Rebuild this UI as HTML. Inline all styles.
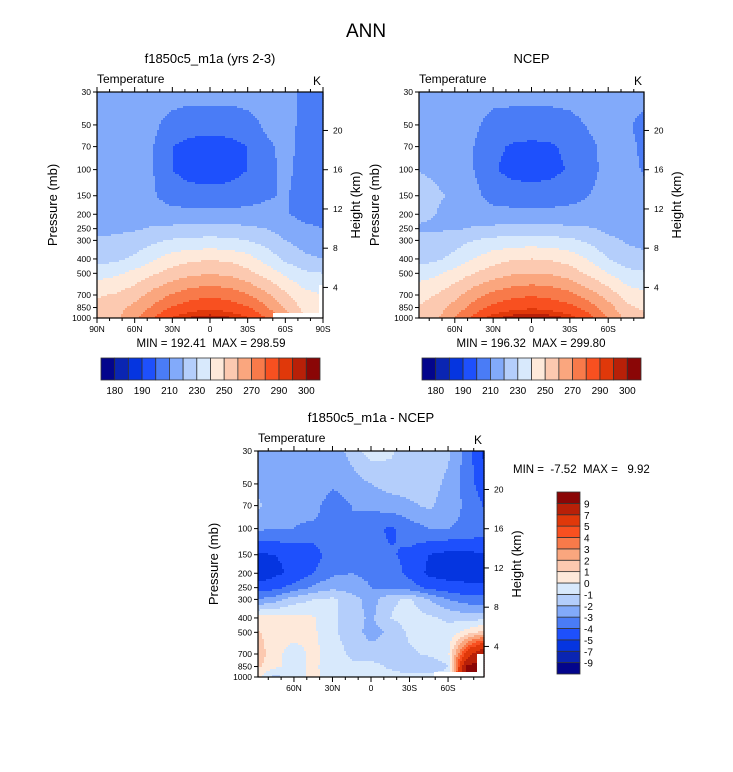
<!DOCTYPE html>
<html><head><meta charset="utf-8"><style>
body{margin:0;background:#fff;}
svg{display:block;font-family:"Liberation Sans",sans-serif;}
</style></head><body>
<svg id="fig" width="733" height="772" viewBox="0 0 733 772" xmlns="http://www.w3.org/2000/svg">
<rect width="733" height="772" fill="#fff"/>
<text x="366" y="37" font-size="19" text-anchor="middle">ANN</text>
</svg>
<script>
// ---- data ----
const lats = [90,75,60,45,30,15,0,-15,-30,-45,-60,-75,-90];
const levels = [30,50,70,100,150,200,250,300,400,500,700,850,1000];
const modelT = [
 [215,215,215,215,215,214,214,214,215,215,214,207,206],
 [216,216,215,212,206,204,204,204,206,212,214,207,206],
 [217,216,214,210,200,197,196,197,200,208,213,207,206],
 [218,217,215,210,200,196,195,196,200,207,212,207,205],
 [217,216,214,211,205,204,204,204,206,209,211,206,205],
 [217,217,216,215,214,213,213,213,213,213,211,207,206],
 [218,218,219,221,222,223,224,223,222,220,216,212,210],
 [221,222,224,228,231,232,233,232,230,226,220,216,214],
 [226,228,232,239,245,248,249,248,244,236,228,222,220],
 [236,238,243,249,254,258,259,258,253,246,238,232,230],
 [249,251,256,264,271,276,278,276,271,262,252,243,240],
 [253,256,263,272,281,286,288,286,281,271,258,247,244],
 [256,258,268,280,291,296,298,296,291,280,266,250,246]
];
const obsT = [
 [215,215,217,215,214,214,214,214,215,217,214,214,213],
 [216,216,215,212,206,205,205,205,206,211,214,211,207],
 [217,216,215,210,202,199,198,199,202,208,213,212,208],
 [220,219,216,210,201,197,196,197,201,207,213,212,209],
 [222,221,219,213,206,205,204,205,207,210,213,213,212],
 [222,220,217,215,214,213,213,213,213,213,213,212,212],
 [219,219,219,221,222,223,224,223,222,221,218,216,214],
 [222,223,226,230,233,234,235,234,232,228,222,219,217],
 [226,228,233,240,246,249,250,249,246,239,230,224,222],
 [235,238,244,250,255,259,260,259,255,248,240,233,231],
 [247,250,257,266,273,277,279,277,273,265,256,245,242],
 [250,254,264,274,283,287,289,287,283,275,264,252,248],
 [255,258,271,283,294,298,300,298,294,284,270,256,252]
];
const diffT = [
 [-2.6,-2.6,-2.5,-2.3,-2.6,-1.6,-0.5,-0.8,-1.6,-1.6,-1.8,-3.5,-5.5],
 [-2.2,-2.5,-2.5,-2.3,-2.8,-2.5,-2.0,-1.6,-1.5,-1.6,-2.2,-3.5,-4.8],
 [-1.8,-2.3,-2.8,-2.6,-3.6,-3.0,-2.8,-2.5,-2.2,-1.8,-2.5,-3.2,-4.2],
 [-2.8,-3.0,-3.0,-3.2,-3.2,-3.0,-3.6,-4.2,-3.5,-3.0,-3.0,-3.2,-3.6],
 [-5.2,-5.0,-4.8,-4.6,-3.3,-3.6,-3.7,-3.9,-4.2,-5.0,-5.3,-5.3,-5.0],
 [-5.8,-5.2,-4.8,-4.0,-3.2,-3.0,-3.2,-3.5,-4.3,-5.2,-5.4,-5.2,-5.2],
 [-4.6,-4.3,-3.6,-2.8,-2.2,-2.5,-3.0,-3.2,-3.5,-4.3,-4.6,-4.9,-4.9],
 [-3.0,-2.5,-1.5,-1.0,-0.8,-1.5,-2.5,-1.2,-0.8,-2.0,-3.0,-3.5,-3.6],
 [0.4,0.4,0.4,0.1,-0.8,-1.5,-2.2,-1.0,-0.5,-0.8,-1.2,-1.5,-1.2],
 [1.2,0.5,0.4,0.2,-0.8,-1.5,-2.4,-1.8,-0.8,-0.5,-0.6,0.5,1.5],
 [1.8,0.3,-0.5,0.3,-0.5,-1.2,-1.5,-1.5,-1.2,-0.8,-0.3,6,9.5],
 [1.3,0.3,-0.4,0.2,-0.5,-0.8,-0.6,-1.2,-1.5,-2.0,-1.0,9.5,9.5],
 [0.5,-1.5,-0.3,0.2,-0.3,-0.5,-0.5,-0.5,-0.8,-0.5,-0.5,9.5,9.5]
];
const tBounds = [180,185,190,200,210,220,230,240,250,260,270,280,290,295,300];
const tLabels = ["180","190","210","230","250","270","290","300"];
const dBounds = [-9,-7,-5,-4,-3,-2,-1,0,1,2,3,4,5,7,9];
const dLabels = ["-9","-7","-5","-4","-3","-2","-1","0","1","2","3","4","5","7","9"];
const palette = ["#03058c","#0a25b2","#0535e0","#1e50fc","#4a7cf6","#82aafa","#b4cefb","#d8e9fc","#fee9da","#fcc9b0","#faa67e","#f87a4a","#f85020","#e0380a","#b82008","#8a0606"];
const presTicks = [30,50,70,100,150,200,250,300,400,500,700,850,1000];
const heightTicks = [4,8,12,16,20];
const latTicksFull = [90,60,30,0,-30,-60,-90];
const latTicksInner = [60,30,0,-30,-60];

// ---- helpers ----
const NS="http://www.w3.org/2000/svg";
const svg=document.getElementById('fig');
function mk(tag,attrs,parent){const e=document.createElementNS(NS,tag);for(const k in attrs)e.setAttribute(k,attrs[k]);(parent||svg).appendChild(e);return e;}
function latLabel(l){return l===0?"0":(Math.abs(l)+(l>0?"N":"S"));}
function colorFor(v,b){let i=0;while(i<b.length&&v>=b[i])i++;return palette[i];}
function interp(grid,lat,p){
  let fi=(90-lat)/15; fi=Math.max(0,Math.min(12,fi));
  let i0=Math.min(11,Math.floor(fi)),tx=fi-i0;
  const lp=Math.log(p);let j0=0;
  while(j0<levels.length-2&&Math.log(levels[j0+1])<lp)j0++;
  let ty=(lp-Math.log(levels[j0]))/(Math.log(levels[j0+1])-Math.log(levels[j0]));ty=Math.max(0,Math.min(1,ty));
  const a=grid[j0][i0],b=grid[j0][i0+1],c=grid[j0+1][i0],d=grid[j0+1][i0+1];
  return (a*(1-tx)+b*tx)*(1-ty)+(c*(1-tx)+d*tx)*ty;
}
function panel(opt){
  const {x0,y0,w,h,latMax,grid,bounds,name}=opt;
  const g=mk('g',{});
  
  
  const yOf=p=>y0+Math.log(p/30)/Math.log(1000/30)*h;
  const xOf=l=>x0+(latMax-l)/(2*latMax)*w;
  const step=2;
  for(let py=0;py<h;py+=step){
    const p=30*Math.exp((py+step/2)/h*Math.log(1000/30));
    let runStart=0,runCol=null;
    for(let px=0;;px+=step){
      const end=px>=w;
      let col=null;
      if(!end){const lat=latMax-(px+step/2)/w*2*latMax;col=colorFor(interp(grid,lat,p),bounds);}
      if(col!==runCol){
        if(runCol!==null){
          const r=mk('rect',{x:x0+runStart,y:y0+py,width:Math.min(px,w)-runStart+0.6,height:Math.min(step+0.6,h-py),fill:runCol},g);
          
          
        }
        runStart=px;runCol=col;
      }
      if(end)break;
    }
  }
  if(opt.mask){for(const m of opt.mask)mk('rect',{x:m[0],y:m[1],width:m[2],height:m[3],fill:'#fff'},g);}
  const fr=mk('rect',{x:x0,y:y0,width:w,height:h,fill:'none',stroke:'#000','stroke-width':1.2},g);
  
  for(const p of presTicks){const y=yOf(p);
    mk('line',{x1:x0-4,x2:x0,y1:y,y2:y,stroke:'#000'},g);
    const t=mk('text',{x:x0-6,y:y+3,'font-size':8.5,'text-anchor':'end'},g);t.textContent=p;
    }
  for(const hk of heightTicks){const p=1144*Math.exp(-hk/6.57);const y=yOf(p);
    mk('line',{x1:x0+w,x2:x0+w+5,y1:y,y2:y,stroke:'#000'},g);
    const t=mk('text',{x:x0+w+10,y:y+3,'font-size':8.5},g);t.textContent=hk;
    }
  for(let l=90;l>=-90;l-=10){if(Math.abs(l)>latMax+0.01)continue;const x=xOf(l);const major=l%30===0;const len=major?5:3;
    mk('line',{x1:x,x2:x,y1:y0+h,y2:y0+h+len,stroke:'#000'},g);mk('line',{x1:x,x2:x,y1:y0,y2:y0-len,stroke:'#000'},g);}
  for(const l of opt.latTicks){const x=xOf(l);const t=mk('text',{x:x,y:y0+h+14,'font-size':8.5,'text-anchor':'middle'},g);t.textContent=latLabel(l);
    }
  const tl=mk('text',{x:x0,y:y0-9,'font-size':12},g);tl.textContent='Temperature';
  
  const k=mk('text',{x:x0+w-2,y:y0-7,'font-size':12,'text-anchor':'end'},g);k.textContent='K';
  
  const yl=mk('text',{x:0,y:0,'font-size':13,'text-anchor':'middle',transform:`translate(${x0-40},${y0+h/2}) rotate(-90)`},g);yl.textContent='Pressure (mb)';
  
  const hl=mk('text',{x:0,y:0,'font-size':13,'text-anchor':'middle',transform:`translate(${x0+w+37},${y0+h/2}) rotate(-90)`},g);hl.textContent='Height (km)';
  
  const st=mk('text',{x:x0+w/2,y:y0-29,'font-size':13,'text-anchor':'middle'},g);st.textContent=opt.title;
  
  if(opt.minmax){const mm=mk('text',{x:opt.minmax[1],y:opt.minmax[2],'font-size':11.5,'text-anchor':opt.minmax[3]||'middle',style:'white-space:pre'},g);mm.textContent=opt.minmax[0];
    }
}
function hColorbar(x0,y0,w,hh,name){
  const g=mk('g',{});
  const bw=w/palette.length;
  palette.forEach((c,i)=>{const r=mk('rect',{x:x0+i*bw,y:y0,width:bw,height:hh,fill:c,stroke:'#333','stroke-width':0.8},g);
    });
  tLabels.forEach((s,i)=>{const t=mk('text',{x:x0+(2*i+1)*bw,y:y0+hh+14,'font-size':10,'text-anchor':'middle'},g);t.textContent=s;
    });
}
panel({x0:97,y0:92,w:226,h:226,latMax:90,grid:modelT,bounds:tBounds,name:'model-panel',title:'f1850c5_m1a (yrs 2-3)',latTicks:latTicksFull,
  minmax:['MIN = 192.41  MAX = 298.59',211,347],mask:[[273,313,50,5],[319,285,4,33]]});
panel({x0:419,y0:92,w:225,h:226,latMax:88,grid:obsT,bounds:tBounds,name:'ncep-panel',title:'NCEP',latTicks:latTicksInner,
  minmax:['MIN = 196.32  MAX = 299.80',531,347]});
panel({x0:258,y0:451,w:226,h:226,latMax:88,grid:diffT,bounds:dBounds,name:'difference-panel',title:'f1850c5_m1a - NCEP',latTicks:latTicksInner,
  minmax:['MIN =  -7.52  MAX =   9.92',513,473,'start'],mask:[[434,672,50,5],[477,654,7,23]]});
hColorbar(101,358,219,22,'model-colorbar');
hColorbar(422,358,219,22,'ncep-colorbar');
(function(){
  const g=mk('g',{});
  const x0=557,y0=492,w=23,H=182,bh=H/palette.length;
  palette.forEach((c,i)=>{const r=mk('rect',{x:x0,y:y0+H-(i+1)*bh,width:w,height:bh,fill:c,stroke:'#333','stroke-width':0.8},g);
    });
  dLabels.forEach((s,i)=>{const t=mk('text',{x:x0+27,y:y0+H-(i+1)*bh+4,'font-size':10},g);t.textContent=s;
    });
})();
</script>
</body></html>
